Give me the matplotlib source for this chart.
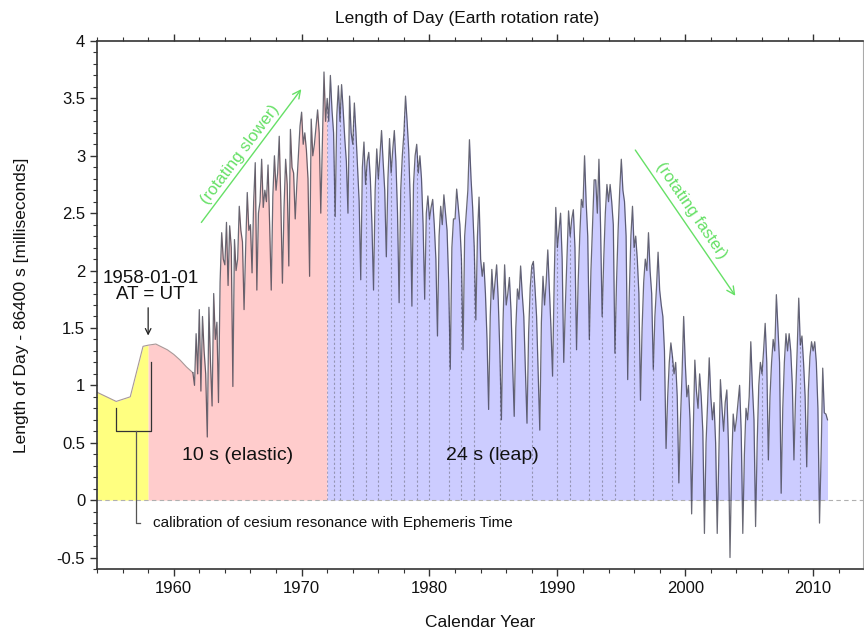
import numpy as np
import matplotlib
matplotlib.use('Agg')
import matplotlib.pyplot as plt
from matplotlib.ticker import MultipleLocator, FuncFormatter

plt.rcParams['font.family'] = ['Liberation Sans', 'DejaVu Sans']

# ---------------------------------------------------------------------------
# data, LOD - 86400 s in ms
# ---------------------------------------------------------------------------
# smooth early part, 1954 .. mid 1961
early_years = [1954.0, 1955.5, 1956.6, 1957.6, 1958.0, 1958.6, 1959.5, 1960.0, 1960.5, 1961.0, 1961.5]
early_lod = [0.94, 0.86, 0.90, 1.34, 1.35, 1.36, 1.31, 1.27, 1.22, 1.16, 1.11]

# rest of 1961, at 1961.625, 1961.75, 1961.875
lod_1961 = [1.00, 1.45, 1.10]

# eight values per year (every 1.5 months), one row per year
lod_1960s = [  # 1962 - 1969
    [1.66, 0.95, 1.60, 1.30, 1.10, 0.55, 1.68, 1.20],
    [0.82, 1.80, 1.40, 1.55, 0.85, 1.90, 2.33, 2.10],
    [2.05, 2.42, 1.87, 2.39, 2.20, 0.99, 2.27, 2.00],
    [2.10, 2.56, 2.35, 2.25, 1.66, 2.20, 2.68, 2.35],
    [2.40, 1.98, 2.60, 2.94, 1.83, 2.50, 2.60, 2.97],
    [2.55, 2.70, 2.60, 2.92, 2.40, 1.83, 2.65, 3.00],
    [2.70, 2.85, 3.17, 2.60, 1.89, 2.55, 2.97, 2.75],
    [2.04, 3.23, 2.90, 2.85, 2.45, 2.75, 3.00, 3.26],
]
lod_1970s = [  # 1970 - 1979
    [3.38, 3.10, 3.20, 3.05, 2.80, 1.95, 3.32, 3.00],
    [3.10, 3.25, 3.40, 3.20, 2.50, 3.10, 3.73, 3.30],
    [3.50, 3.30, 3.70, 3.40, 3.20, 2.47, 3.35, 3.61],
    [3.30, 3.62, 3.40, 3.15, 2.95, 2.50, 3.52, 3.20],
    [3.10, 3.46, 3.20, 2.90, 2.60, 1.92, 2.90, 3.12],
    [2.75, 2.95, 3.03, 2.80, 2.40, 1.83, 2.70, 3.06],
    [2.80, 3.00, 3.22, 2.95, 2.70, 2.12, 2.80, 3.15],
    [2.85, 3.05, 3.22, 2.95, 2.50, 1.72, 2.70, 3.00],
    [3.20, 3.52, 3.30, 3.05, 2.60, 1.69, 2.75, 3.00],
    [3.10, 2.85, 3.00, 2.80, 2.40, 1.75, 2.50, 2.65],
]
lod_1980s = [  # 1980 - 1989
    [2.45, 2.55, 2.62, 2.40, 2.10, 1.43, 2.30, 2.56],
    [2.40, 2.66, 2.50, 2.35, 1.90, 1.14, 2.20, 2.45],
    [2.45, 2.71, 2.55, 2.40, 2.10, 1.31, 2.30, 2.50],
    [2.70, 3.14, 2.80, 2.55, 2.20, 1.57, 2.30, 2.64],
    [2.10, 1.95, 2.07, 1.80, 1.40, 0.79, 1.60, 2.01],
    [1.75, 1.90, 2.05, 1.75, 1.30, 0.70, 1.55, 2.05],
    [1.70, 1.80, 1.94, 1.65, 1.20, 0.73, 1.50, 1.84],
    [1.75, 2.04, 1.80, 1.60, 1.15, 0.67, 1.45, 1.85],
    [2.04, 2.08, 1.85, 1.60, 1.10, 0.61, 1.55, 1.95],
    [1.70, 1.90, 2.18, 1.85, 1.50, 1.08, 1.90, 2.55],
]
lod_1990s = [  # 1990 - 1999
    [2.20, 2.35, 2.50, 2.10, 1.20, 1.70, 2.10, 2.52],
    [2.30, 2.45, 2.53, 2.20, 1.31, 1.90, 2.30, 2.62],
    [2.55, 3.00, 2.60, 2.30, 1.40, 2.00, 2.40, 2.79],
    [2.79, 2.50, 2.97, 2.40, 1.60, 2.10, 2.50, 2.75],
    [2.60, 2.75, 2.60, 2.40, 1.28, 1.90, 2.35, 2.70],
    [2.97, 2.70, 2.60, 2.30, 1.05, 1.80, 2.30, 2.56],
    [2.20, 2.30, 2.10, 1.80, 0.87, 1.50, 1.90, 2.10],
    [2.00, 2.33, 2.00, 1.80, 1.14, 1.60, 1.85, 2.16],
    [1.83, 1.70, 1.60, 1.30, 0.45, 0.90, 1.20, 1.37],
    [1.25, 1.10, 1.20, 0.90, 0.15, 0.70, 1.10, 1.60],
]
lod_2000s = [  # 2000 - 2010
    [1.20, 0.90, 1.00, 0.70, -0.12, 0.60, 1.22, 0.95],
    [0.80, 1.10, 0.90, 0.60, -0.29, 0.50, 0.85, 1.24],
    [0.90, 0.70, 0.85, 0.50, -0.29, 0.40, 1.05, 0.80],
    [0.60, 0.85, 0.96, 0.50, -0.50, 0.30, 0.75, 0.60],
    [0.70, 0.85, 1.00, 0.60, -0.29, 0.40, 0.80, 0.70],
    [0.90, 1.38, 1.00, 0.70, -0.23, 0.50, 1.00, 1.20],
    [1.10, 1.30, 1.54, 1.20, 0.35, 0.90, 1.20, 1.40],
    [1.30, 1.79, 1.50, 1.20, 0.06, 0.80, 1.20, 1.45],
    [1.30, 1.45, 1.30, 1.00, 0.35, 0.90, 1.30, 1.76],
    [1.35, 1.43, 1.20, 0.90, 0.29, 0.95, 1.25, 1.38],
    [1.30, 1.38, 1.20, 0.80, -0.20, 0.40, 1.15, 0.76],
]
# start of 2011, at 2011.0 and 2011.125
lod_2011 = [0.75, 0.70]

leap_dates = [1972.0, 1972.5, 1973.0, 1974.0, 1975.0, 1976.0, 1977.0, 1978.0, 1979.0,
              1980.0, 1981.5, 1982.5, 1983.5, 1985.5, 1988.0, 1990.0, 1991.0,
              1992.5, 1993.5, 1994.5, 1996.0, 1997.5, 1999.0, 2006.0, 2009.0]

# ---------------------------------------------------------------------------
# build series
# ---------------------------------------------------------------------------
rows = lod_1960s + lod_1970s + lod_1980s + lod_1990s + lod_2000s
dense_lod = np.array(rows).ravel()
dense_t = 1962 + np.arange(dense_lod.size) / 8.0

t = np.concatenate([early_years,
                    1961.5 + np.arange(1, 4) / 8.0,
                    dense_t,
                    2011 + np.arange(2) / 8.0])
lod = np.concatenate([early_lod, lod_1961, dense_lod, lod_2011])
top = np.clip(lod, 0, None)
n_early = len(early_years)

# ---------------------------------------------------------------------------
# plot
# ---------------------------------------------------------------------------
fig = plt.figure(figsize=(8.64, 6.34), dpi=100)
ax = fig.add_axes([97 / 864, 65 / 634, 766 / 864, 528 / 634])

ax.fill_between(t, 0, top, where=t <= 1958.0, color='#ffff80', lw=0)
ax.fill_between(t, 0, top, where=(t >= 1958.0) & (t <= 1972.0), color='#ffcccc', lw=0)
blue = ax.fill_between(t, 0, top, where=t >= 1972.0, color='#ccccff', lw=0)

# leap seconds, clipped to the blue area
vl = ax.vlines(leap_dates, 0, 4, colors='#9494b4', linestyles=(0, (2, 2)), lw=0.8)
vl.set_clip_path(blue.get_paths()[0], ax.transData)

ax.axhline(0, color='#b0b0b0', lw=0.8, ls=(0, (4, 3)))

ax.plot(t[:n_early], lod[:n_early], color='#a89898', lw=0.8)
ax.plot(t[n_early - 1:], lod[n_early - 1:], color='#2a2a3a', lw=0.9, alpha=0.7)

# annotations
ax.annotate('', xy=(1958.0, 1.41), xytext=(1958.0, 1.70),
            arrowprops=dict(arrowstyle='->', color='#222222', lw=0.9))
ax.text(1958.2, 1.86, '1958-01-01\nAT = UT', ha='center', va='center',
        fontsize=13.5, color='#111111', linespacing=0.95)

ax.plot([1955.5, 1955.5, 1958.25, 1958.25], [0.80, 0.60, 0.60, 1.20], color='#333333', lw=0.9)
ax.plot([1957.03, 1957.03, 1957.34], [0.60, -0.20, -0.20], color='#555555', lw=0.9)
ax.text(1958.36, -0.20, 'calibration of cesium resonance with Ephemeris Time',
        ha='left', va='center', fontsize=11, color='#111111')

ax.text(1965.0, 0.39, '10 s (elastic)', ha='center', va='center', fontsize=14, color='#111111')
ax.text(1984.95, 0.39, '24 s (leap)', ha='center', va='center', fontsize=14, color='#111111')

green = '#66e066'
ax.annotate('', xy=(1970.11, 3.60), xytext=(1962.03, 2.40),
            arrowprops=dict(arrowstyle='->', color=green, lw=1.0, mutation_scale=14))
ax.text(1965.16, 3.01, '(rotating slower)', rotation=53, ha='center', va='center',
        fontsize=12, color=green)
ax.annotate('', xy=(2004.04, 1.76), xytext=(1995.97, 3.07),
            arrowprops=dict(arrowstyle='->', color=green, lw=1.0, mutation_scale=14))
ax.text(2000.48, 2.52, '(rotating faster)', rotation=-55.5, ha='center', va='center',
        fontsize=12, color=green)

# axes
ax.set_xlim(1954, 2013.9)
ax.set_ylim(-0.6, 4.0)
ax.xaxis.set_major_locator(MultipleLocator(10))
ax.xaxis.set_minor_locator(MultipleLocator(2))
ax.yaxis.set_major_locator(MultipleLocator(0.5))
ax.yaxis.set_minor_locator(MultipleLocator(0.1))
ax.yaxis.set_major_formatter(FuncFormatter(lambda v, p: f'{v:g}'))
ax.tick_params(which='both', direction='out', top=True, right=False,
               colors='#333333', labelcolor='#111111', labelsize=12)
ax.tick_params(which='major', length=5, width=1.0)
ax.tick_params(which='minor', length=3, width=0.8)
for side in ['left', 'bottom', 'top']:
    ax.spines[side].set_color('#333333')
    ax.spines[side].set_linewidth(1.2)
ax.spines['right'].set_color('#aaaaaa')

ax.set_title('Length of Day (Earth rotation rate)', fontsize=12.5, color='#111111',
             pad=13, x=(467 - 97) / 766)
ax.set_xlabel('Calendar Year', fontsize=12.5, color='#111111', labelpad=14)
ax.set_ylabel('Length of Day - 86400 s [milliseconds]', fontsize=12.5, color='#111111', labelpad=20)

fig.savefig('out.png', dpi=100)
